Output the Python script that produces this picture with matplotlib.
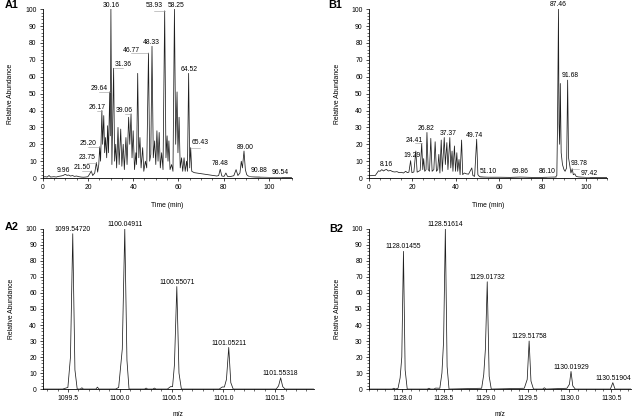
import matplotlib.pyplot as plt
from matplotlib.ticker import MultipleLocator, FormatStrFormatter

plt.rcParams['font.family'] = ['Liberation Sans', 'DejaVu Sans']

# Chromatogram A1: (time, relative abundance) vertices
a1_time = [0, 1, 2, 2.8, 3.5, 5, 6, 7, 8, 9, 9.96, 10.8, 11.5, 12.3, 13.2, 14, 15, 16, 17, 18, 19, 20,
           20.8, 21.5, 22.1, 23.0, 23.75, 24.3, 24.8, 25.2, 25.6, 26.17, 26.5, 27.0, 27.4, 27.8, 28.3,
           28.7, 29.1, 29.64, 29.9, 30.16, 30.6, 31.36, 31.8, 32.3, 32.7, 33.3, 33.8, 34.5, 35.0, 35.6,
           36.1, 36.8, 37.3, 38.0, 38.5, 39.06, 39.5, 40.0, 40.6, 41.2, 41.5, 42.0, 42.5, 43.0, 43.5,
           44.2, 44.7, 45.4, 46.0, 46.77, 47.3, 47.8, 48.33, 48.9, 49.5, 50.0, 50.5, 51.0, 51.5, 52.0,
           52.6, 53.2, 53.93, 54.5, 55.0, 55.4, 55.8, 56.3, 57.0, 57.6, 58.25, 58.8, 59.4, 59.8, 60.3,
           60.8, 61.4, 61.9, 62.5, 63.0, 63.6, 64.0, 64.52, 65.0, 65.43, 65.9, 67, 70, 73, 75, 77, 77.8,
           78.48, 79.2, 80.2, 81.0, 81.7, 83, 84.5, 85.5, 86.3, 87.2, 87.8, 88.3, 89.0, 89.6, 90.2,
           90.88, 92, 94, 96.54, 100, 105, 110]
a1_abund = [0.5, 0.8, 0.6, 1.5, 0.6, 0.8, 0.6, 1.0, 1.2, 1.5, 2.2, 1.6, 1.8, 1.2, 1.5, 1.0, 1.2, 0.8, 0.6,
            0.5, 0.6, 0.8, 2.5, 4.2, 1.5, 3, 9.2, 3.5, 8, 18.5, 10, 40, 20, 37, 15, 24, 12, 31, 15, 51, 25,
            100, 8, 65, 10, 20, 6, 30, 8, 29, 7, 20, 5, 24, 8, 36, 20, 38, 12, 28, 5, 15, 8, 62, 12, 24,
            6, 18, 4, 10, 6, 74, 10, 14, 78, 12, 22, 8, 28, 10, 27, 6, 15, 5, 99, 12, 25, 10, 22, 5, 8, 4,
            100, 20, 51, 15, 36, 6, 12, 4, 12, 4, 10, 4, 62, 6, 18, 4, 3.2, 2.6, 2.0, 1.6, 1.2, 1.5, 5.2,
            1.2, 1.0, 3.0, 1.0, 0.9, 1.4, 5.0, 1.5, 3, 10, 6, 16, 5, 2, 1.2, 0.8, 0.6, 0.5, 0.4, 0.4, 0.3]
a1_peaks = [9.96, 21.50, 23.75, 25.20, 26.17, 29.64, 30.16, 31.36, 39.06, 46.77, 48.33,
            53.93, 58.25, 64.52, 65.43, 78.48, 89.00, 90.88, 96.54]
a1_heights = [2.2, 4.2, 9.2, 18.5, 40, 51, 100, 65, 38, 74, 78, 99, 100, 62, 18, 5.2, 16, 1.2, 0.5]

# Chromatogram B1
b1_time = [0, 1, 2, 3, 3.8, 4.5, 5.2, 6, 6.8, 7.5, 8.16, 9, 10, 11, 12, 13, 14, 15, 16, 17, 17.8, 18.5,
           19.29, 19.9, 20.8, 21.7, 22.3, 23, 23.7, 24.41, 24.9, 25.3, 25.8, 26.4, 26.82, 27.4, 28.0,
           28.6, 29.2, 30.0, 30.6, 31.2, 31.8, 32.3, 32.8, 33.4, 33.9, 34.8, 35.3, 36.0, 36.5, 37.37,
           37.8, 38.4, 38.8, 39.5, 40.0, 40.6, 41.0, 41.6, 42.1, 42.8, 43.3, 44, 45, 46, 47.5, 48.0,
           48.8, 49.74, 50.3, 51.10, 53, 55, 60, 65, 69.86, 75, 80, 86.10, 86.7, 87.0, 87.46, 87.7,
           88.0, 88.3, 88.7, 89.3, 90.0, 90.5, 91.2, 91.68, 92.1, 92.6, 93.2, 93.78, 94.3, 95, 95.6,
           96.5, 97.42, 100, 105, 110]
b1_abund = [1.5, 1.4, 1.6, 1.5, 3, 4.3, 4.0, 5.0, 4.2, 4.8, 5.1, 4.2, 4.5, 3.8, 3.6, 3.8, 3.2, 3.4, 3.0,
            4.0, 3.2, 3.5, 10.3, 3.2, 3.6, 16, 3.5, 4, 4.5, 20.5, 5, 11.5, 4, 5, 27, 5, 4, 23.5, 4, 5,
            21.5, 4, 5, 14, 3, 22.5, 4, 24, 8, 21, 5, 24, 6, 16, 4, 19, 4, 15, 4, 11, 2, 22.5, 2, 3,
            2.5, 2.3, 6, 1.5, 1.0, 23, 2, 0.8, 0.6, 0.5, 0.5, 0.4, 0.6, 0.4, 0.4, 0.6, 1.5, 30, 100,
            32, 20, 56, 15, 8, 5, 4, 6, 58, 12, 8, 3, 5.5, 2, 2.5, 1, 0.7, 0.6, 0.4, 0.4, 0.3]
b1_peaks = [8.16, 19.29, 24.41, 26.82, 37.37, 49.74, 51.10, 69.86, 86.10, 87.46, 91.68, 93.78, 97.42]
b1_heights = [5.1, 10.3, 20.5, 27, 24, 23, 0.8, 0.6, 0.6, 100, 58, 5.5, 0.6]

# Mass spectrum A2
a2_mz = [1099.26, 1099.45, 1099.50, 1099.525, 1099.547, 1099.568, 1099.59, 1099.62, 1099.635, 1099.65,
         1099.77, 1099.785, 1099.80, 1099.96, 1099.99, 1100.025, 1100.049, 1100.07, 1100.09, 1100.24,
         1100.255, 1100.27, 1100.32, 1100.335, 1100.35, 1100.46, 1100.49, 1100.51, 1100.528, 1100.551,
         1100.572, 1100.595, 1100.96, 1100.99, 1101.01, 1101.03, 1101.052, 1101.072, 1101.095,
         1101.51, 1101.533, 1101.553, 1101.573, 1101.596, 1101.87]
a2_abund = [0, 0, 1, 20, 97, 12, 0, 0, 0.8, 0, 0, 1.2, 0, 0, 1, 25, 100, 18, 0, 0, 0.6, 0, 0, 0.6, 0,
            0, 1.5, 1.5, 15, 64, 10, 0, 0, 1.3, 1.3, 6, 26, 4, 0, 0, 2, 7, 1.5, 0, 0]
a2_peaks = [1099.54720, 1100.04911, 1100.55071, 1101.05211, 1101.55318]
a2_heights = [97, 100, 64, 26, 7]

# Mass spectrum B2
b2_mz = [1127.60, 1127.88, 1127.90, 1127.92, 1127.95, 1127.975, 1127.995, 1128.015, 1128.035, 1128.06,
         1128.30, 1128.32, 1128.34, 1128.38, 1128.40, 1128.45, 1128.475, 1128.495, 1128.516, 1128.537,
         1128.56, 1128.95, 1128.975, 1128.995, 1129.017, 1129.04, 1129.065, 1129.46, 1129.495,
         1129.518, 1129.54, 1129.57, 1129.68, 1129.70, 1129.72, 1129.97, 1130.0, 1130.019, 1130.04,
         1130.07, 1130.49, 1130.519, 1130.545, 1130.74]
b2_abund = [0, 0, 0.5, 0, 0.5, 7, 20, 86, 12, 0, 0, 0.5, 0, 0, 0.6, 0.5, 10, 30, 100, 14, 0, 0.5, 9,
            25, 67, 8, 0, 0.5, 6, 30, 5, 0, 0, 0.8, 0, 0.5, 3, 11, 2, 0, 0, 4, 0, 0]
b2_peaks = [1128.01455, 1128.51614, 1129.01732, 1129.51758, 1130.01929, 1130.51904]
b2_heights = [86, 100, 67, 30, 11, 4]

# label placement (text centre x, baseline y) for the chromatogram peak labels
a1_label_pos = {9.96: (9.2, 3.8), 21.50: (17.3, 5.5), 23.75: (19.5, 11.3), 25.20: (20.2, 19.5),
                26.17: (24.2, 40.6), 29.64: (25.0, 52.2), 30.16: (30.3, 101.3), 31.36: (35.5, 66.5),
                39.06: (36.2, 39), 46.77: (39.0, 74.6), 48.33: (48.0, 79.6), 53.93: (49.2, 101.3),
                58.25: (59.0, 101.3), 64.52: (64.7, 63.5), 65.43: (69.7, 20.3), 78.48: (78.6, 7.5),
                89.00: (89.4, 17.3), 90.88: (95.6, 3.3), 96.54: (105.2, 2.3)}
b1_label_pos = {8.16: (8.1, 7.1), 19.29: (19.9, 12.2), 24.41: (21.1, 21.6), 26.82: (26.5, 28.6),
                37.37: (36.8, 25.6), 49.74: (48.7, 24.6), 51.10: (55.3, 2.9), 69.86: (69.7, 2.9),
                86.10: (82.1, 2.9), 87.46: (87.3, 101.8), 91.68: (92.8, 59.6), 93.78: (97.0, 7.6),
                97.42: (101.7, 2.0)}

FS = 4.9
LINE = '#1e1e1e'


def style_axis(ax, xmaj, xmin, ymin=2):
    for s in ['top', 'right']:
        ax.spines[s].set_visible(False)
    for s in ['left', 'bottom']:
        ax.spines[s].set_linewidth(0.6)
    ax.set_ylim(0, 100)
    ax.yaxis.set_major_locator(MultipleLocator(10))
    ax.yaxis.set_minor_locator(MultipleLocator(ymin))
    ax.xaxis.set_major_locator(MultipleLocator(xmaj))
    ax.xaxis.set_minor_locator(MultipleLocator(xmin))
    ax.tick_params(which='major', length=2.2, width=0.5, labelsize=FS, pad=2.2)
    ax.tick_params(which='minor', length=1.2, width=0.4)
    ax.set_ylabel('Relative Abundance', fontsize=FS)


def chromatogram(ax, t, y, peaks, heights, positions):
    ax.plot(t, y, color=LINE, lw=0.55)
    ax.set_xlim(0, 110)
    style_axis(ax, 20, 5)
    ax.set_xlabel('Time (min)', fontsize=FS)
    for p, h in zip(peaks, heights):
        tx, ty = positions[p]
        if abs(tx - p) > 1.5:
            ax.plot([tx, p], [h, h], color='#9a9a9a', lw=0.4, clip_on=False)
        ax.text(tx, ty, f'{p:.2f}', fontsize=FS, ha='center', va='baseline', clip_on=False)


def spectrum(ax, mz, y, peaks, heights, xlim):
    ax.plot(mz, y, color=LINE, lw=0.55)
    ax.set_xlim(*xlim)
    style_axis(ax, 0.5, 0.1)
    ax.xaxis.set_major_formatter(FormatStrFormatter('%.1f'))
    ax.set_xlabel('m/z', fontsize=FS)
    for p, h in zip(peaks, heights):
        ax.text(p, h + 1.8, f'{p:.5f}', fontsize=FS, ha='center', va='baseline', clip_on=False)


fig = plt.figure(figsize=(6.38, 4.17), dpi=100)
ax_a1 = fig.add_axes([0.0669, 0.573, 0.390, 0.405])
ax_b1 = fig.add_axes([0.578, 0.573, 0.374, 0.405])
ax_a2 = fig.add_axes([0.0674, 0.067, 0.424, 0.384])
ax_b2 = fig.add_axes([0.578, 0.067, 0.4115, 0.384])

chromatogram(ax_a1, a1_time, a1_abund, a1_peaks, a1_heights, a1_label_pos)
chromatogram(ax_b1, b1_time, b1_abund, b1_peaks, b1_heights, b1_label_pos)
spectrum(ax_a2, a2_mz, a2_abund, a2_peaks, a2_heights, (1099.26, 1101.87))
spectrum(ax_b2, b2_mz, b2_abund, b2_peaks, b2_heights, (1127.60, 1130.74))

ax_a1.yaxis.set_label_coords(-0.116, 0.5)
ax_b1.yaxis.set_label_coords(-0.117, 0.5)
ax_a2.yaxis.set_label_coords(-0.104, 0.5)
ax_b2.yaxis.set_label_coords(-0.104, 0.5)
for ax in [ax_a1, ax_b1]:
    ax.xaxis.set_label_coords(0.5, -0.142)
for ax in [ax_a2, ax_b2]:
    ax.xaxis.set_label_coords(0.5, -0.138)

# panel letters
for txt, x, y in [('A1', 0.008, 0.999), ('B1', 0.514, 0.999), ('A2', 0.008, 0.467), ('B2', 0.516, 0.463)]:
    fig.text(x, y, txt, fontsize=7.8, fontweight='bold', ha='left', va='top')

plt.savefig('out.png', dpi=100)
plt.close()
